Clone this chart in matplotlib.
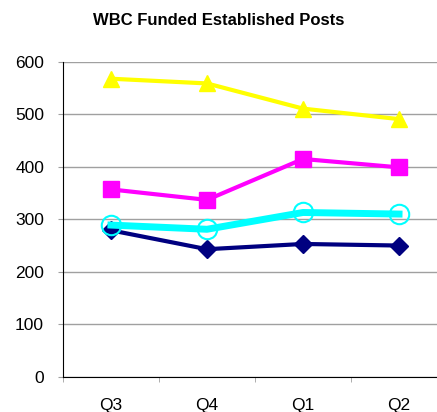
import matplotlib
matplotlib.use("Agg")
import matplotlib.pyplot as plt

plt.rcParams['font.family'] = ['Liberation Sans', 'DejaVu Sans']

quarters = ["Q3", "Q4", "Q1", "Q2"]
navy_vals = [279, 243, 253, 250]
cyan_vals = [289, 281, 313, 310]
magenta_vals = [357, 337, 415, 399]
yellow_vals = [568, 559, 511, 491]
y_ticks = [0, 100, 200, 300, 400, 500, 600]

fig = plt.figure(figsize=(4.37, 4.12), dpi=100)
ax = fig.add_axes([0.144, 0.0857, 0.879, 0.764])

x = range(len(quarters))

ax.plot(x, navy_vals, color="#000080", lw=3, marker="D", ms=9,
        mec="#000080", mfc="#000080", zorder=3)
ax.plot(x, magenta_vals, color="#ff00ff", lw=3, marker="s", ms=11,
        mec="#ff00ff", mfc="#ff00ff", zorder=3)
ax.plot(x, yellow_vals, color="#ffff00", lw=3, marker="^", ms=12,
        mec="#ffff00", mfc="#ffff00", zorder=3)
ax.plot(x, cyan_vals, color="#00ffff", lw=5, marker="o", ms=14,
        mec="#00ffff", mfc="none", mew=1.5, zorder=4)

ax.set_xlim(-0.5, 3.5)
ax.set_ylim(0, 600)
ax.set_yticks(y_ticks)
ax.set_xticks(x)
ax.set_xticklabels(quarters)
ax.set_xticks([-0.5, 0.5, 1.5, 2.5, 3.5], minor=True)
ax.tick_params(axis="x", which="major", length=0, pad=15, labelsize=12.5)
ax.tick_params(axis="x", which="minor", length=3.6, color="#a0a0a0", direction="out")
ax.tick_params(axis="y", length=3.6, color="#a0a0a0", labelsize=12.5, pad=10)

ax.grid(axis="y", color="#a0a0a0", lw=1)
ax.set_axisbelow(True)
for s in ["top", "right"]:
    ax.spines[s].set_visible(False)
ax.spines["left"].set_color("black")
ax.spines["bottom"].set_color("black")

fig.text(0.5, 0.951, "WBC Funded Established Posts", ha="center", va="center",
         fontsize=12, fontweight="bold")

fig.savefig("out.png", dpi=100)
